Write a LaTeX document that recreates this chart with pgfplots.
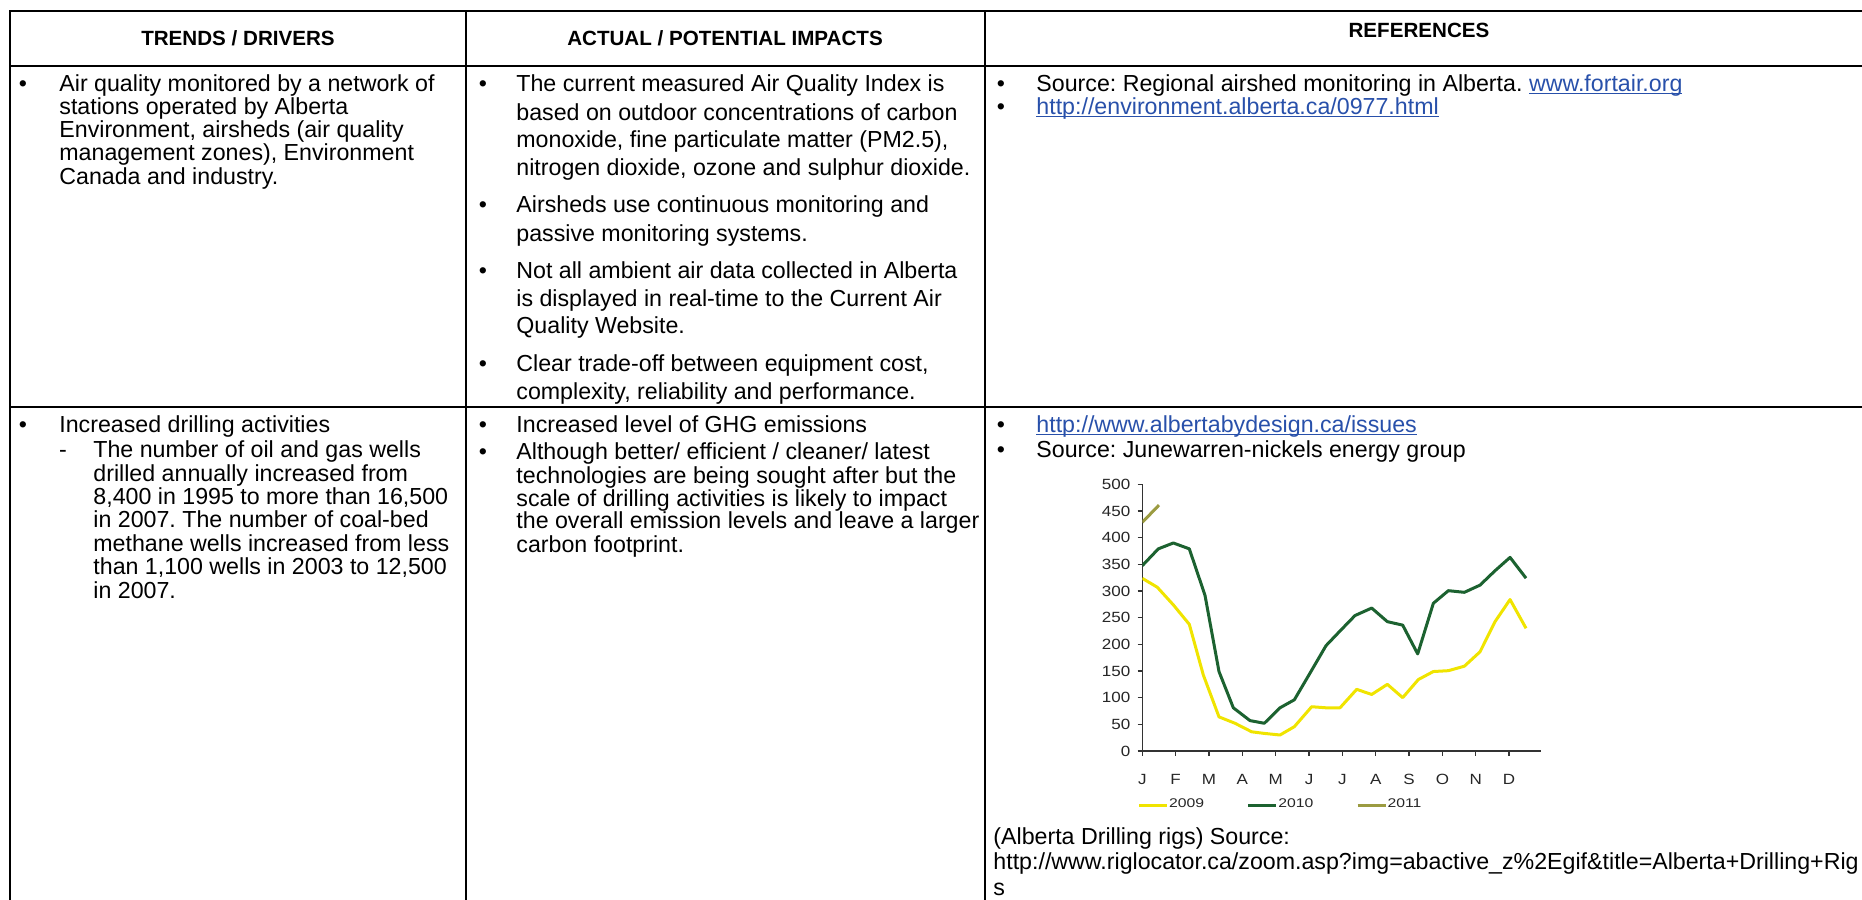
\documentclass[border=0pt]{standalone}
\usepackage{pgfplots}
\pgfplotsset{compat=1.18}
\usepackage{fontspec}
\setmainfont{Liberation Sans}
\newfontfamily\chartfam[FakeStretch=1.15]{Liberation Sans}
\newfontfamily\legfam[FakeStretch=1.25]{Liberation Sans}
\definecolor{linkblue}{RGB}{40,80,170}
\definecolor{c2009}{RGB}{240,228,0}
\definecolor{c2010}{RGB}{28,98,48}
\definecolor{c2011}{RGB}{155,155,65}
\newcommand\ulink[1]{{\color{linkblue}\setbox0\hbox{#1}\rlap{\rule[-1.4pt]{\wd0}{0.7pt}}\box0}}
\newcommand\bodyfont{\fontsize{11.6pt}{12pt}\selectfont\frenchspacing}
\newcommand\headfont{\fontsize{10.3pt}{11pt}\selectfont\bfseries}
\newcommand\chartfont{\chartfam\fontsize{7.4pt}{8pt}\selectfont}
\newcommand\legfont{\legfam\fontsize{6.3pt}{7pt}\selectfont}
\newcommand\TL[3]{\node[anchor=base west,inner sep=0pt,font=\bodyfont] at (#1,#2+2.4) {#3};}
\newcommand\BL[2]{\node[anchor=base,inner sep=0pt,font=\bodyfont] at (#1,#2+2.4) {•};}
\begin{document}
\frenchspacing
\begin{tikzpicture}[x=0.5pt,y=-0.5pt]
\path[use as bounding box] (0,0) rectangle (1862,899);
% table rules
\draw[line width=1pt] (10,11) -- (1870,11);
\draw[line width=1pt] (10,66) -- (1870,66);
\draw[line width=1pt] (10,406.5) -- (1870,406.5);
\draw[line width=1pt] (10,10.5) -- (10,905);
\draw[line width=1pt] (465.5,10.5) -- (465.5,905);
\draw[line width=1pt] (985,10.5) -- (985,905);
% headers
\node[anchor=base,inner sep=0pt,font=\headfont] at (238,46) {TRENDS / DRIVERS};
\node[anchor=base,inner sep=0pt,font=\headfont] at (725,46) {ACTUAL / POTENTIAL IMPACTS};
\node[anchor=base,inner sep=0pt,font=\headfont] at (1419,37.4) {REFERENCES};
% row 1, column 1
\BL{23}{89.1}
\TL{59}{89.1}{Air quality monitored by a network of}
\TL{59}{111.7}{stations operated by Alberta}
\TL{59}{135.4}{Environment, airsheds (air quality}
\TL{59}{158}{management zones), Environment}
\TL{59}{181.75}{Canada and industry.}
% row 1, column 2
\BL{483}{89.1}
\TL{516}{89.1}{The current measured Air Quality Index is}
\TL{516}{117.6}{based on outdoor concentrations of carbon}
\TL{516}{144.9}{monoxide, fine particulate matter (PM2.5),}
\TL{516}{173.4}{nitrogen dioxide, ozone and sulphur dioxide.}
\BL{483}{210.3}
\TL{516}{210.3}{Airsheds use continuous monitoring and}
\TL{516}{238.8}{passive monitoring systems.}
\BL{483}{275.6}
\TL{516}{275.6}{Not all ambient air data collected in Alberta}
\TL{516}{304.1}{is displayed in real-time to the Current Air}
\TL{516}{331.4}{Quality Website.}
\BL{483}{369.4}
\TL{516}{369.4}{Clear trade-off between equipment cost,}
\TL{516}{396.7}{complexity, reliability and performance.}
% row 1, column 3
\BL{1001}{89.1}
\TL{1036}{89.1}{Source: Regional airshed monitoring in Alberta. \ulink{www.fortair.org}}
\BL{1001}{111.7}
\TL{1036}{111.7}{\ulink{http://environment.alberta.ca/0977.html}}
% row 2, column 1
\BL{23}{430}
\TL{59}{430}{Increased drilling activities}
\node[anchor=base,inner sep=0pt,font=\bodyfont] at (63,457.3) {-};
\TL{93}{454.9}{The number of oil and gas wells}
\TL{93}{478.6}{drilled annually increased from}
\TL{93}{502.4}{8,400 in 1995 to more than 16,500}
\TL{93}{524.9}{in 2007. The number of coal-bed}
\TL{93}{548.7}{methane wells increased from less}
\TL{93}{572.4}{than 1,100 wells in 2003 to 12,500}
\TL{93}{596.2}{in 2007.}
% row 2, column 2
\BL{483}{430}
\TL{516}{430}{Increased level of GHG emissions}
\BL{483}{457.3}
\TL{516}{457.3}{Although better/ efficient / cleaner/ latest}
\TL{516}{481}{technologies are being sought after but the}
\TL{516}{503.6}{scale of drilling activities is likely to impact}
\TL{516}{526}{the overall emission levels and leave a larger}
\TL{516}{549.9}{carbon footprint.}
% row 2, column 3
\BL{1001}{430}
\TL{1036}{430}{\ulink{http://www.albertabydesign.ca/issues}}
\BL{1001}{454.9}
\TL{1036}{454.9}{Source: Junewarren-nickels energy group}
\TL{993}{842}{(Alberta Drilling rigs) Source:}
\TL{993}{867}{http://www.riglocator.ca/zoom.asp?img=abactive\_z\%2Egif\&title=Alberta+Drilling+Rig}
\TL{993}{893}{s}
% chart
\begin{axis}[
  at={(571.15pt,-375.5pt)}, anchor=south west,
  scale only axis, width=199.2pt, height=133.35pt,
  xmin=0, xmax=11.95, ymin=0, ymax=500,
  axis x line*=bottom, axis y line*=left,
  axis line style={black!80, line width=0.6pt, -},
  tick style={black!80, line width=0.6pt},
  tick align=outside, major tick length=2.3pt,
  ytick={0,50,...,500},
  xtick={0,1,...,11},
  xticklabels={J,F,M,A,M,J,J,A,S,O,N,D},
  /pgf/number format/assume math mode=true,
  ticklabel style={font=\chartfont, text=black!85},
  yticklabel style={anchor=east, inner sep=0pt, xshift=-3.5pt},
  xticklabel style={anchor=base, inner sep=0pt, yshift=-14.2pt},
  legend columns=3,
  legend style={at={(-0.013,-0.2025)}, anchor=west, draw=none, fill=none,
    inner sep=0pt, font=\legfont, text=black!85,
    nodes={inner sep=0.3pt},
    /tikz/every even column/.append style={column sep=21pt}},
  legend image code/.code={\draw[#1] (0pt,0pt) -- (14pt,0pt);},
]
\addplot[c2009, line width=1.5pt, line join=round] coordinates {
(0,323.75) (0.45,307) (0.93,274) (1.41,237.5) (1.83,142.5) (2.30,64)
(2.78,52) (3.28,36) (3.66,33) (4.13,30) (4.56,45.6) (5.08,83)
(5.51,81) (5.93,81) (6.43,115.6) (6.88,106) (7.35,125) (7.81,100)
(8.28,134) (8.73,149) (9.18,150.6) (9.66,159) (10.13,186) (10.58,242.5)
(11.03,284) (11.51,230)};
\addlegendentry{2009}
\addplot[c2010, line width=1.5pt, line join=round] coordinates {
(0,347.5) (0.48,379) (0.93,390) (1.41,379) (1.88,292) (2.30,149)
(2.73,81) (3.23,57) (3.66,52) (4.13,81) (4.56,96) (5.03,146)
(5.51,197.5) (5.93,225) (6.38,254) (6.88,268) (7.35,242.5) (7.81,236)
(8.26,182) (8.73,277) (9.18,300.6) (9.66,297.5) (10.13,311) (10.58,338)
(11.03,363) (11.51,324)};
\addlegendentry{2010}
\addplot[c2011, line width=1.5pt, line join=round] coordinates {
(0,428.75) (0.50,461)};
\addlegendentry{2011}
\end{axis}
\end{tikzpicture}
\end{document}
